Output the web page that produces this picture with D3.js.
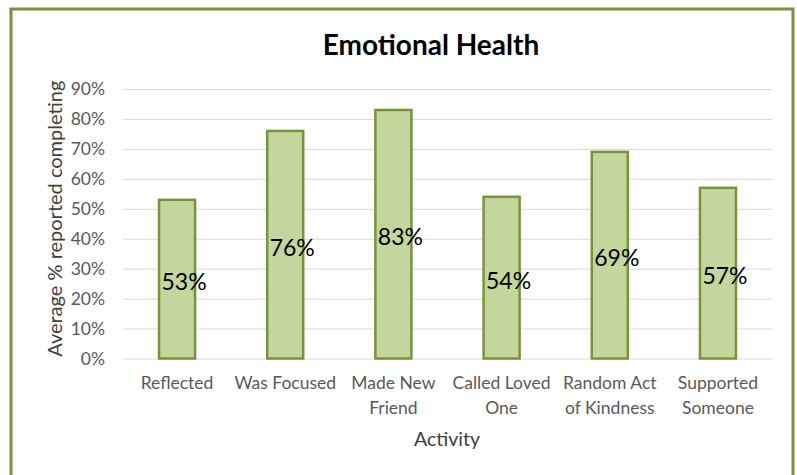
<!DOCTYPE html>
<html><head><meta charset="utf-8">
<script src="https://cdn.jsdelivr.net/npm/d3@7"></script>
<style>body{margin:0;background:#fff}</style>
</head><body>
<svg id="c" width="797" height="475"></svg>
<script>
const categories = [["Reflected"],["Was Focused"],["Made New","Friend"],["Called Loved","One"],["Random Act","of Kindness"],["Supported","Someone"]];
const values = [53, 76, 83, 54, 69, 57];
const yTicks = [0,10,20,30,40,50,60,70,80,90];
const title = "Emotional Health";
const yTitle = "Average % reported completing";
const xTitle = "Activity";

(function(){
const font = "Lato, 'Open Sans', sans-serif";
const svg = d3.select("#c");
svg.append("rect").attr("x",11).attr("y",9).attr("width",782).attr("height",480)
  .attr("fill","#fff").attr("stroke","#77933C").attr("stroke-width",3);

const pl=123, pr=772, pt=89, pb=358.5;
const x = d3.scaleBand().domain(d3.range(values.length)).range([pl,pr]).paddingInner(0.667).paddingOuter(0.333);
const y = d3.scaleLinear().domain([0,90]).range([pb,pt]);

const yAxis = svg.append("g").attr("transform",`translate(${pl},0)`)
  .call(d3.axisLeft(y).tickValues(yTicks).tickFormat(d=>d+"%").tickSize(-(pr-pl)).tickPadding(18));
yAxis.select(".domain").remove();
yAxis.selectAll(".tick line").attr("stroke","#D9D9D9");
yAxis.selectAll(".tick text").attr("fill","#595959").style("font-family",font).style("font-size","17.5px");

svg.selectAll(".bar").data(values).join("rect").attr("class","bar")
  .attr("x",(d,i)=>x(i)).attr("width",x.bandwidth())
  .attr("y",d=>y(d)).attr("height",d=>y(0)-y(d))
  .attr("fill","#C3D69B").attr("stroke","#77933C").attr("stroke-width",2.5);

svg.selectAll(".lbl").data(values).join("text").attr("class","lbl")
  .attr("x",(d,i)=>x(i)+x.bandwidth()/2+7).attr("y",d=>(y(d)+y(0))/2+3)
  .attr("dy","0.35em").attr("text-anchor","middle")
  .style("font-family",font).style("font-size","23px").attr("fill","#000")
  .text(d=>d+"%");

const xl = svg.selectAll(".xl").data(categories).join("text").attr("class","xl")
  .attr("x",(d,i)=>x(i)+x.bandwidth()/2).attr("y",389)
  .attr("text-anchor","middle").attr("fill","#595959")
  .style("font-family",font).style("font-size","17.5px");
xl.selectAll("tspan").data(d=>d).join("tspan")
  .attr("x",function(){return this.parentNode.getAttribute("x");})
  .attr("dy",(d,i)=>i?25:0).text(d=>d);

svg.append("text").attr("x",447).attr("y",446).attr("text-anchor","middle")
  .attr("fill","#404040").style("font-family",font).style("font-size","19.5px").text(xTitle);

svg.append("text").attr("transform",`translate(62,${(pt+pb)/2-5}) rotate(-90)`).attr("text-anchor","middle")
  .attr("fill","#404040").style("font-family",font).style("font-size","20px").text(yTitle);

svg.append("text").attr("x",431).attr("y",55).attr("text-anchor","middle")
  .attr("fill","#000").style("font-family",font).style("font-weight","bold").style("font-size","28px").text(title);
})();
</script>
</body></html>
